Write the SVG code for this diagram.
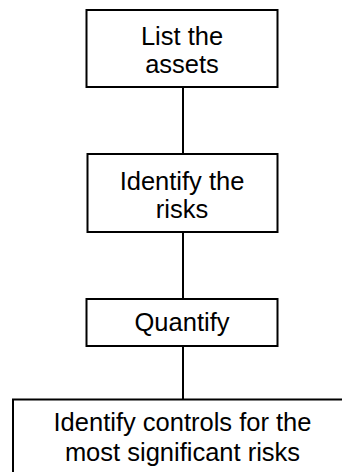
<svg xmlns="http://www.w3.org/2000/svg" width="342" height="472" viewBox="0 0 342 472">
<style>
.box{fill:#fff;stroke:#000;stroke-width:2}
.lbl{font-family:"Liberation Sans",Arial,sans-serif;font-size:25.5px;fill:#000;text-anchor:middle}
.conn line{stroke:#000;stroke-width:2}
</style>
<rect width="342" height="472" fill="#fff"/>
<g class="conn" id="connectors">
<line x1="183" y1="87" x2="183" y2="154"/>
<line x1="183" y1="232" x2="183" y2="299"/>
<line x1="183" y1="346" x2="183" y2="400"/>
</g>
<g id="node1">
<rect class="box" x="86.5" y="10" width="191" height="77"/>
<text class="lbl" x="182" y="45">List the</text>
<text class="lbl" x="182" y="73">assets</text>
</g>
<g id="node2">
<rect class="box" x="87.5" y="154" width="190" height="78"/>
<text class="lbl" x="182" y="190">Identify the</text>
<text class="lbl" x="182" y="218">risks</text>
</g>
<g id="node3">
<rect class="box" x="86.5" y="299" width="191" height="47"/>
<text class="lbl" x="182" y="331">Quantify</text>
</g>
<g id="node4">
<rect class="box" x="13" y="399.5" width="340" height="90"/>
<text class="lbl" x="182.5" y="431">Identify controls for the</text>
<text class="lbl" x="182.5" y="461">most significant risks</text>
</g>
</svg>
